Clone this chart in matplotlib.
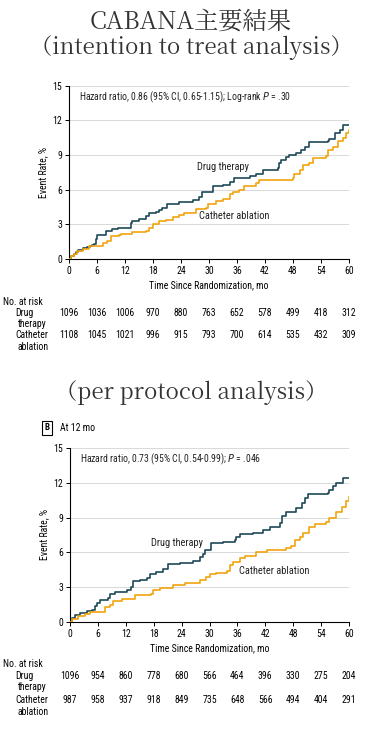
import numpy as np
import matplotlib.pyplot as plt
import matplotlib.transforms as mtransforms

# ---- data ----
ticks = [0, 6, 12, 18, 24, 30, 36, 42, 48, 54, 60]

# intention to treat
itt_drug_t = [0, 0.5, 1.0, 1.4, 2.0, 2.9, 3.8, 4.6, 5.0, 5.4, 5.7, 6.1, 7.9, 8.2, 9.3, 10.5, 12.2, 13.2, 13.6,
              15.0, 16.5, 17.2, 18.6, 19.3, 20.0, 21.1, 23.6, 26.5, 27.9, 28.6, 30.0, 30.8, 32.9, 34.4,
              35.4, 38.7, 40.0, 41.5, 44.7, 45.1, 45.5, 46.5, 47.2, 48.7, 49.7, 50.5, 51.5, 55.5, 55.8,
              56.9, 58.0, 58.7, 60]
itt_drug_y = [0, 0.25, 0.45, 0.6, 0.75, 0.95, 1.0, 1.1, 1.2, 1.3, 1.7, 2.05, 2.4, 2.4, 2.6, 2.65, 2.7, 3.1, 3.3,
              3.5, 3.7, 4.0, 4.1, 4.25, 4.4, 4.8, 4.9, 5.1, 5.4, 5.8, 5.8, 6.3, 6.4, 6.7,
              7.0, 7.2, 7.4, 7.7, 7.9, 8.3, 8.6, 8.8, 9.0, 9.2, 9.4, 9.7, 10.1, 10.2, 10.4,
              10.9, 11.2, 11.6, 11.6]
itt_cath_t = [0, 0.4, 1.0, 1.8, 2.9, 4.3, 6.8, 7.2, 8.2, 8.9, 10.7, 11.1, 13.6, 16.5, 17.2, 17.9, 19.3, 20.8,
              22.2, 23.6, 24.7, 27.2, 29.3, 29.7, 31.5, 32.9, 34.4, 35.1, 36.5, 37.6, 40.0, 40.8, 48.0,
              48.3, 49.4, 50.1, 51.5, 52.3, 55.1, 55.5, 56.5, 57.6, 58.7, 59.4, 60]
itt_cath_y = [0, 0.3, 0.45, 0.65, 0.86, 1.1, 1.1, 1.4, 1.6, 2.0, 2.1, 2.2, 2.3, 2.4, 2.7, 3.0, 3.3, 3.4,
              3.6, 3.8, 4.0, 4.3, 4.4, 4.8, 5.0, 5.2, 5.6, 5.8, 6.0, 6.3, 6.6, 6.8, 7.0,
              7.4, 7.7, 8.1, 8.3, 8.7, 8.9, 9.4, 9.7, 10.2, 10.5, 10.9, 11.2]
itt_risk_drug = [1096, 1036, 1006, 970, 880, 763, 652, 578, 499, 418, 312]
itt_risk_cath = [1108, 1045, 1021, 996, 915, 793, 700, 614, 535, 432, 309]

# per protocol
pp_drug_t = [0, 0.5, 1.1, 2.1, 3.6, 4.7, 5.4, 5.9, 6.4, 8.2, 8.6, 9.7, 12.2, 13.2, 13.6, 15.0, 16.5, 17.2,
             18.6, 20.0, 21.1, 23.6, 26.5, 27.9, 28.6, 29.0, 30.4, 32.9, 35.4, 35.8, 36.5, 39.4, 41.5,
             43.0, 45.1, 45.5, 46.5, 48.7, 49.8, 50.5, 51.2, 55.5, 55.8, 56.6, 57.3, 58.7, 60]
pp_drug_y = [0, 0.35, 0.6, 0.8, 0.95, 1.07, 1.35, 1.6, 1.9, 2.1, 2.45, 2.6, 2.75, 3.0, 3.5, 3.6, 3.8, 4.1,
             4.3, 4.6, 5.0, 5.05, 5.3, 5.6, 5.9, 6.2, 6.8, 6.9, 7.1, 7.35, 7.55, 7.7, 7.9,
             8.15, 8.5, 9.15, 9.5, 9.8, 10.25, 10.7, 11.0, 11.1, 11.4, 11.7, 12.0, 12.45, 12.45]
pp_cath_t = [0, 0.4, 1.8, 3.2, 4.3, 7.2, 7.5, 8.6, 9.3, 11.1, 12.2, 14.0, 17.5, 17.9, 19.3, 22.2, 24.7,
             27.9, 29.3, 30.0, 31.5, 33.7, 34.4, 35.1, 36.5, 37.6, 40.0, 42.3, 46.5, 47.6, 48.3, 49.4,
             50.1, 51.5, 52.6, 55.1, 55.8, 57.3, 58.4, 59.4, 60]
pp_cath_y = [0, 0.3, 0.5, 0.7, 0.9, 0.9, 1.3, 1.5, 1.8, 1.95, 2.0, 2.3, 2.45, 2.75, 2.95, 3.2, 3.4,
             3.6, 3.9, 4.1, 4.25, 4.4, 4.9, 5.2, 5.5, 5.7, 6.0, 6.2, 6.35, 6.55, 7.05, 7.35,
             7.65, 8.15, 8.45, 8.65, 8.95, 9.5, 9.95, 10.4, 10.8]
pp_risk_drug = [1096, 954, 860, 778, 680, 566, 464, 396, 330, 275, 204]
pp_risk_cath = [987, 958, 937, 918, 849, 735, 648, 566, 494, 404, 291]

DRUG = '#1f4a57'
CATH = '#f2a30f'
W, H = 382, 729
narrow = ['Roboto Condensed', 'DejaVu Sans']
serif = ['Noto Serif CJK JP', 'DejaVu Serif']
FS = 7


def fx(px):
    return px / W


def fy(py):
    return 1 - py / H


fig = plt.figure(figsize=(W / 100, H / 100), dpi=100)


def panel(top_px, bottom_px, dt, dy, ct, cy, hr_text, drug_lbl, cath_lbl, x0):
    ax = fig.add_axes([fx(x0), fy(bottom_px), fx(349) - fx(x0), fy(top_px) - fy(bottom_px)])
    ax.step(dt, dy, where='post', color=DRUG, lw=1.2, zorder=3)
    ax.step(ct, cy, where='post', color=CATH, lw=1.2, zorder=3)
    ax.set_xlim(0, 60)
    ax.set_ylim(0, 15)
    ax.set_xticks(ticks)
    ax.set_yticks([0, 3, 6, 9, 12, 15])
    ax.grid(axis='y', color='#d9d9d9', lw=0.7)
    ax.set_axisbelow(True)
    for s in ['top', 'right']:
        ax.spines[s].set_visible(False)
    ax.spines['left'].set_linewidth(0.8)
    ax.spines['bottom'].set_linewidth(0.8)
    ax.tick_params(labelsize=FS, length=3, width=0.7, pad=2)
    for lab in ax.get_xticklabels() + ax.get_yticklabels():
        lab.set_family(narrow)
    ax.set_ylabel('Event Rate, %', fontsize=FS, family=narrow, labelpad=3)
    ax.set_xlabel('Time Since Randomization, mo', fontsize=FS, family=narrow, labelpad=3)
    ax.text(0.035, 0.935, hr_text, transform=ax.transAxes, fontsize=FS, family=narrow,
            color='#222222', va='center')
    ax.text(*drug_lbl, 'Drug therapy', fontsize=7.5, family=narrow, color='#222222', va='center')
    ax.text(*cath_lbl, 'Catheter ablation', fontsize=7.5, family=narrow, color='#222222', va='center')
    return ax


def risk_table(ax, y_head, y_d, y_c, risk_d, risk_c):
    tr = mtransforms.blended_transform_factory(ax.transData, fig.transFigure)
    fig.text(fx(3), fy(y_head), 'No. at risk', fontsize=FS, family=narrow, va='center')
    fig.text(fx(15), fy(y_d), 'Drug', fontsize=FS, family=narrow, va='center')
    fig.text(fx(18), fy(y_d + 11), 'therapy', fontsize=FS, family=narrow, va='center')
    fig.text(fx(15), fy(y_c), 'Catheter', fontsize=FS, family=narrow, va='center')
    fig.text(fx(17), fy(y_c + 12), 'ablation', fontsize=FS, family=narrow, va='center')
    for t, d, c in zip(ticks, risk_d, risk_c):
        ax.text(t, fy(y_d), str(d), transform=tr, fontsize=FS, family=narrow, ha='center', va='center')
        ax.text(t, fy(y_c), str(c), transform=tr, fontsize=FS, family=narrow, ha='center', va='center')


title_kw = dict(family=serif, ha='center', va='center', color='#333333')
fig.text(0.5, fy(22), 'CABANA主要結果', fontsize=17.5, **title_kw)
fig.text(0.5, fy(48), '（intention to treat analysis）', fontsize=16, **title_kw)

ax1 = panel(85.7, 259, itt_drug_t, itt_drug_y, itt_cath_t, itt_cath_y,
            'Hazard ratio, 0.86 (95% CI, 0.65-1.15); Log-rank $\\it{P}$ = .30',
            (27.4, 8.0), (27.9, 3.7), 69)
risk_table(ax1, 302, 313, 335, itt_risk_drug, itt_risk_cath)

fig.text(0.5, fy(393), '（per protocol analysis）', fontsize=16, **title_kw)
fig.text(fx(47), fy(428), 'B', fontsize=6.5, family=narrow, ha='center', va='center', weight='bold',
         bbox=dict(boxstyle='square,pad=0.25', fc='white', ec='black', lw=0.8))
fig.text(fx(60), fy(428), 'At 12 mo', fontsize=FS, family=narrow, va='center')

ax2 = panel(448, 622, pp_drug_t, pp_drug_y, pp_cath_t, pp_cath_y,
            'Hazard ratio, 0.73 (95% CI, 0.54-0.99); $\\it{P}$ = .046',
            (17.4, 6.8), (36.4, 4.4), 70)
risk_table(ax2, 664, 676, 700, pp_risk_drug, pp_risk_cath)

fig.savefig('out.png', dpi=100)
